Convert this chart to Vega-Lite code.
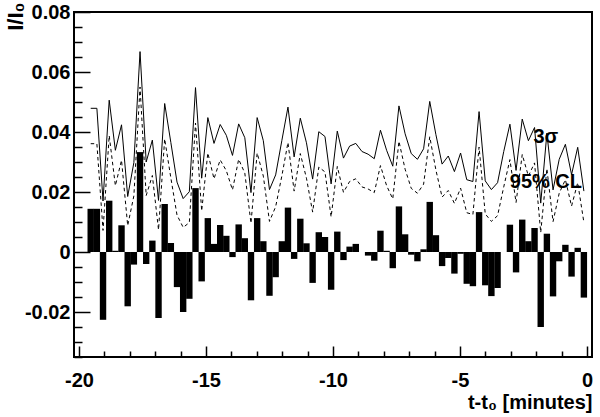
{
  "$schema": "https://vega.github.io/schema/vega-lite/v6.json",
  "width": 518,
  "height": 345,
  "autosize": "none",
  "padding": {"left": 74, "top": 12, "right": 8, "bottom": 60},
  "background": "white",
  "config": {"view": {"stroke": "black", "strokeWidth": 2}, "font": "Liberation Sans"},
  "resolve": {"axis": {"x": "independent", "y": "independent"}},
  "datasets": {
    "h": [
      {"t": -19.539, "v": 0.0144, "s": 0.0479, "d": 0.0361},
      {"t": -19.296, "v": 0.0144, "s": 0.0479, "d": 0.0361},
      {"t": -19.054, "v": -0.0226, "s": 0.0170, "d": 0.0072},
      {"t": -18.811, "v": 0.0171, "s": 0.0506, "d": 0.0388},
      {"t": -18.568, "v": 0.0004, "s": 0.0339, "d": 0.0221},
      {"t": -18.326, "v": 0.0089, "s": 0.0424, "d": 0.0306},
      {"t": -18.083, "v": -0.0181, "s": 0.0185, "d": 0.0088},
      {"t": -17.840, "v": -0.0042, "s": 0.0298, "d": 0.0187},
      {"t": -17.597, "v": 0.0333, "s": 0.0668, "d": 0.0550},
      {"t": -17.355, "v": -0.0040, "s": 0.0300, "d": 0.0188},
      {"t": -17.112, "v": 0.0038, "s": 0.0373, "d": 0.0255},
      {"t": -16.869, "v": -0.0220, "s": 0.0172, "d": 0.0074},
      {"t": -16.627, "v": 0.0160, "s": 0.0495, "d": 0.0377},
      {"t": -16.384, "v": 0.0030, "s": 0.0365, "d": 0.0247},
      {"t": -16.141, "v": -0.0117, "s": 0.0233, "d": 0.0123},
      {"t": -15.899, "v": -0.0200, "s": 0.0178, "d": 0.0082},
      {"t": -15.656, "v": -0.0156, "s": 0.0201, "d": 0.0098},
      {"t": -15.413, "v": 0.0213, "s": 0.0548, "d": 0.0430},
      {"t": -15.170, "v": -0.0098, "s": 0.0246, "d": 0.0137},
      {"t": -14.928, "v": 0.0113, "s": 0.0448, "d": 0.0330},
      {"t": -14.685, "v": 0.0027, "s": 0.0362, "d": 0.0244},
      {"t": -14.442, "v": 0.0090, "s": 0.0425, "d": 0.0307},
      {"t": -14.200, "v": 0.0054, "s": 0.0389, "d": 0.0271},
      {"t": -13.957, "v": -0.0017, "s": 0.0322, "d": 0.0207},
      {"t": -13.714, "v": 0.0092, "s": 0.0427, "d": 0.0309},
      {"t": -13.472, "v": 0.0046, "s": 0.0381, "d": 0.0263},
      {"t": -13.229, "v": -0.0161, "s": 0.0198, "d": 0.0096},
      {"t": -12.986, "v": 0.0113, "s": 0.0448, "d": 0.0330},
      {"t": -12.743, "v": 0.0036, "s": 0.0371, "d": 0.0253},
      {"t": -12.501, "v": -0.0146, "s": 0.0208, "d": 0.0102},
      {"t": -12.258, "v": -0.0084, "s": 0.0257, "d": 0.0151},
      {"t": -12.015, "v": 0.0036, "s": 0.0371, "d": 0.0253},
      {"t": -11.773, "v": 0.0148, "s": 0.0483, "d": 0.0365},
      {"t": -11.530, "v": -0.0023, "s": 0.0317, "d": 0.0203},
      {"t": -11.287, "v": 0.0111, "s": 0.0446, "d": 0.0328},
      {"t": -11.045, "v": 0.0029, "s": 0.0364, "d": 0.0246},
      {"t": -10.802, "v": -0.0103, "s": 0.0243, "d": 0.0133},
      {"t": -10.559, "v": 0.0066, "s": 0.0401, "d": 0.0283},
      {"t": -10.316, "v": 0.0050, "s": 0.0385, "d": 0.0267},
      {"t": -10.074, "v": -0.0126, "s": 0.0227, "d": 0.0117},
      {"t": -9.831, "v": 0.0068, "s": 0.0403, "d": 0.0285},
      {"t": -9.588, "v": -0.0027, "s": 0.0313, "d": 0.0199},
      {"t": -9.346, "v": 0.0018, "s": 0.0353, "d": 0.0235},
      {"t": -9.103, "v": 0.0027, "s": 0.0362, "d": 0.0244},
      {"t": -8.860, "v": 0.0000, "s": 0.0335, "d": 0.0217},
      {"t": -8.618, "v": -0.0012, "s": 0.0326, "d": 0.0210},
      {"t": -8.375, "v": -0.0029, "s": 0.0311, "d": 0.0198},
      {"t": -8.132, "v": 0.0071, "s": 0.0406, "d": 0.0288},
      {"t": -7.889, "v": 0.0004, "s": 0.0339, "d": 0.0221},
      {"t": -7.647, "v": -0.0054, "s": 0.0286, "d": 0.0177},
      {"t": -7.404, "v": 0.0152, "s": 0.0487, "d": 0.0369},
      {"t": -7.161, "v": 0.0059, "s": 0.0394, "d": 0.0276},
      {"t": -6.919, "v": -0.0009, "s": 0.0328, "d": 0.0212},
      {"t": -6.676, "v": -0.0031, "s": 0.0309, "d": 0.0196},
      {"t": -6.433, "v": 0.0009, "s": 0.0344, "d": 0.0226},
      {"t": -6.191, "v": 0.0167, "s": 0.0502, "d": 0.0384},
      {"t": -5.948, "v": 0.0056, "s": 0.0391, "d": 0.0273},
      {"t": -5.705, "v": -0.0047, "s": 0.0293, "d": 0.0183},
      {"t": -5.462, "v": -0.0020, "s": 0.0320, "d": 0.0205},
      {"t": -5.220, "v": -0.0072, "s": 0.0268, "d": 0.0162},
      {"t": -4.977, "v": -0.0006, "s": 0.0330, "d": 0.0213},
      {"t": -4.734, "v": -0.0106, "s": 0.0241, "d": 0.0131},
      {"t": -4.492, "v": -0.0114, "s": 0.0235, "d": 0.0125},
      {"t": -4.249, "v": 0.0133, "s": 0.0468, "d": 0.0350},
      {"t": -4.006, "v": -0.0111, "s": 0.0237, "d": 0.0127},
      {"t": -3.764, "v": -0.0147, "s": 0.0208, "d": 0.0102},
      {"t": -3.521, "v": -0.0120, "s": 0.0231, "d": 0.0121},
      {"t": -3.278, "v": 0.0000, "s": 0.0335, "d": 0.0217},
      {"t": -3.035, "v": 0.0091, "s": 0.0426, "d": 0.0308},
      {"t": -2.793, "v": -0.0068, "s": 0.0272, "d": 0.0165},
      {"t": -2.550, "v": 0.0108, "s": 0.0443, "d": 0.0325},
      {"t": -2.307, "v": 0.0036, "s": 0.0371, "d": 0.0253},
      {"t": -2.065, "v": 0.0080, "s": 0.0415, "d": 0.0297},
      {"t": -1.822, "v": -0.0250, "s": 0.0163, "d": 0.0065},
      {"t": -1.579, "v": 0.0061, "s": 0.0396, "d": 0.0278},
      {"t": -1.337, "v": -0.0148, "s": 0.0207, "d": 0.0101},
      {"t": -1.094, "v": -0.0031, "s": 0.0309, "d": 0.0196},
      {"t": -0.851, "v": 0.0024, "s": 0.0359, "d": 0.0241},
      {"t": -0.608, "v": -0.0082, "s": 0.0258, "d": 0.0153},
      {"t": -0.366, "v": 0.0014, "s": 0.0349, "d": 0.0231},
      {"t": -0.123, "v": -0.0152, "s": 0.0203, "d": 0.0099}
    ]
  },
  "layer": [
    {
      "data": {"name": "h"},
      "mark": {"type": "bar", "size": 6.4, "color": "black"},
      "encoding": {
        "x": {
          "field": "t", "type": "quantitative", "title": "t-t\u2080 [minutes]",
          "scale": {"domain": [-20, 0], "nice": false, "zero": false},
          "axis": {
            "orient": "bottom",
            "values": [-20, -15, -10, -5, 0],
            "format": "d",
            "labelExpr": "replace(datum.label, '\u2212', '-')",
            "tickSize": 11, "offset": -11,
            "tickColor": "black", "tickWidth": 1.5,
            "domain": false, "grid": false,
            "labelFont": "Liberation Sans", "labelFontWeight": "bold", "labelFontSize": 20, "labelColor": "black",
            "labelPadding": 13, "labelBaseline": "top", "labelFlush": false, "labelOverlap": false,
            "titleFont": "Liberation Sans", "titleFontWeight": "bold", "titleFontSize": 20, "titleColor": "black",
            "titleAnchor": "end", "titleAlign": "right", "titleX": 518, "titleY": 62, "titleBaseline": "alphabetic"
          }
        },
        "y": {
          "field": "v", "type": "quantitative", "title": "I/I\u2080",
          "scale": {"domain": [-0.035, 0.08], "nice": false, "zero": false},
          "axis": {
            "orient": "left",
            "values": [-0.02, 0, 0.02, 0.04, 0.06, 0.08],
            "format": ".2~f",
            "labelExpr": "replace(datum.label, '\u2212', '-')",
            "tickSize": 16, "offset": -16,
            "tickColor": "black", "tickWidth": 1.5,
            "domain": false, "grid": false,
            "labelFont": "Liberation Sans", "labelFontWeight": "bold", "labelFontSize": 20, "labelColor": "black",
            "labelPadding": 4, "labelFlush": false, "labelOverlap": false,
            "titleFont": "Liberation Sans", "titleFontWeight": "bold", "titleFontSize": 22, "titleColor": "black",
            "titleAngle": 270, "titleAlign": "right", "titleBaseline": "top", "titleX": -85, "titleY": -10
          }
        },
        "y2": {"datum": 0}
      }
    },
    {
      "data": {"name": "h"},
      "mark": {"type": "line", "color": "black", "strokeWidth": 1},
      "encoding": {
        "x": {
          "field": "t", "type": "quantitative",
          "axis": {
            "orient": "bottom", "title": null, "labels": false, "domain": false, "grid": false,
            "values": [-19, -18, -17, -16, -14, -13, -12, -11, -9, -8, -7, -6, -4, -3, -2, -1],
            "tickSize": 6, "offset": -6, "tickColor": "black", "tickWidth": 1.5
          }
        },
        "y": {
          "field": "s", "type": "quantitative",
          "axis": {
            "orient": "left", "title": null, "labels": false, "domain": false, "grid": false,
            "values": [-0.035, -0.03, -0.025, -0.015, -0.01, -0.005, 0.005, 0.01, 0.015, 0.025, 0.03, 0.035, 0.045, 0.05, 0.055, 0.065, 0.07, 0.075],
            "tickSize": 8, "offset": -8, "tickColor": "black", "tickWidth": 1.5
          }
        }
      }
    },
    {
      "data": {"name": "h"},
      "mark": {"type": "line", "color": "black", "strokeWidth": 1, "strokeDash": [3.5, 3]},
      "encoding": {
        "x": {"field": "t", "type": "quantitative", "axis": null},
        "y": {"field": "d", "type": "quantitative", "axis": null}
      }
    },
    {
      "mark": {"type": "rule", "color": "black", "strokeWidth": 3},
      "encoding": {"x": {"datum": -19.87, "axis": null}, "x2": {"datum": 0}, "y": {"datum": 0.0333, "axis": null}}
    },
    {
      "mark": {"type": "rule", "color": "black", "strokeWidth": 3, "strokeDash": [3.5, 2]},
      "encoding": {"x": {"datum": -19.87, "axis": null}, "x2": {"datum": 0}, "y": {"datum": 0.0182, "axis": null}}
    },
    {
      "data": {"values": [{"t": -2.11, "y": 0.0385, "label": "3\u03c3"}, {"t": -3.04, "y": 0.0233, "label": "95% CL"}]},
      "mark": {"type": "text", "align": "left", "baseline": "middle", "font": "Liberation Sans", "fontWeight": "bold", "fontSize": 20, "color": "black"},
      "encoding": {
        "x": {"field": "t", "type": "quantitative", "axis": null},
        "y": {"field": "y", "type": "quantitative", "axis": null},
        "text": {"field": "label"}
      }
    }
  ]
}
